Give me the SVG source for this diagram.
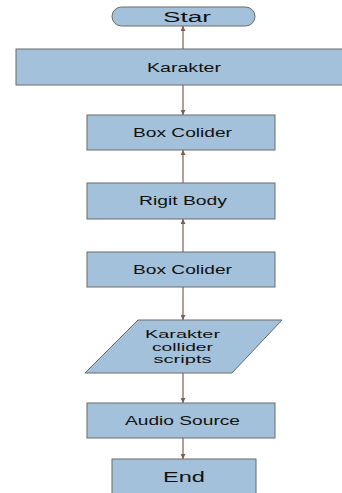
<svg xmlns="http://www.w3.org/2000/svg" width="342" height="493" viewBox="0 0 342 493">
  <style>
    .node { fill: #a3c1da; stroke: #6a6a6a; stroke-width: 1; }
    .lbl { font-family: "Liberation Sans", Arial, sans-serif; font-size: 12px; fill: #111; text-anchor: middle; }
    .big { font-size: 14px; }
    .small { font-size: 11px; }
    .edge { stroke: #7b5e5a; stroke-width: 1.2; fill: none; marker-end: url(#arrow); }
  </style>
  <defs>
    <marker id="arrow" viewBox="0 0 10 10" refX="10" refY="5" markerWidth="5" markerHeight="5" orient="auto" markerUnits="userSpaceOnUse">
      <path d="M0,0 L10,5 L0,10 z" fill="#7b5e5a"/>
    </marker>
  </defs>
  <rect width="342" height="493" fill="#ffffff"/>

  <g id="connectors">
    <line class="edge" x1="183" y1="49" x2="183" y2="26"/>
    <line class="edge" x1="183" y1="85" x2="183" y2="115"/>
    <line class="edge" x1="183" y1="183" x2="183" y2="150"/>
    <line class="edge" x1="183" y1="252" x2="183" y2="219"/>
    <line class="edge" x1="183" y1="287" x2="183" y2="320"/>
    <line class="edge" x1="183" y1="373" x2="183" y2="403"/>
    <line class="edge" x1="183" y1="438" x2="183" y2="459"/>
  </g>

  <g id="start">
    <rect class="node" x="112" y="7" width="143" height="19" rx="9.5" ry="9.5"/>
    <text class="lbl big" x="187" y="21.5" textLength="48" lengthAdjust="spacingAndGlyphs">Star</text>
  </g>

  <g id="karakter">
    <rect class="node" x="16" y="49" width="330" height="36"/>
    <text class="lbl" x="184" y="71.5" textLength="74" lengthAdjust="spacingAndGlyphs">Karakter</text>
  </g>

  <g id="box-colider-1">
    <rect class="node" x="87" y="115" width="188" height="35"/>
    <text class="lbl" x="182.5" y="137" textLength="99" lengthAdjust="spacingAndGlyphs">Box Colider</text>
  </g>

  <g id="rigit-body">
    <rect class="node" x="87" y="183" width="188" height="36"/>
    <text class="lbl" x="183" y="205" textLength="88" lengthAdjust="spacingAndGlyphs">Rigit Body</text>
  </g>

  <g id="box-colider-2">
    <rect class="node" x="87" y="252" width="188" height="35"/>
    <text class="lbl" x="182.5" y="273.5" textLength="99" lengthAdjust="spacingAndGlyphs">Box Colider</text>
  </g>

  <g id="collider-scripts">
    <polygon class="node" points="138,320 282,320 232,373 85,373"/>
    <text class="lbl small" x="182.5" y="338" textLength="75" lengthAdjust="spacingAndGlyphs">Karakter</text>
    <text class="lbl small" x="182.5" y="350.5" textLength="61" lengthAdjust="spacingAndGlyphs">collider</text>
    <text class="lbl small" x="182.5" y="362.5" textLength="58" lengthAdjust="spacingAndGlyphs">scripts</text>
  </g>

  <g id="audio-source">
    <rect class="node" x="87" y="403" width="188" height="35"/>
    <text class="lbl" x="182.5" y="425" textLength="115" lengthAdjust="spacingAndGlyphs">Audio Source</text>
  </g>

  <g id="end">
    <rect class="node" x="112" y="459" width="144" height="40"/>
    <text class="lbl big" x="184" y="482" textLength="42" lengthAdjust="spacingAndGlyphs">End</text>
  </g>
</svg>
